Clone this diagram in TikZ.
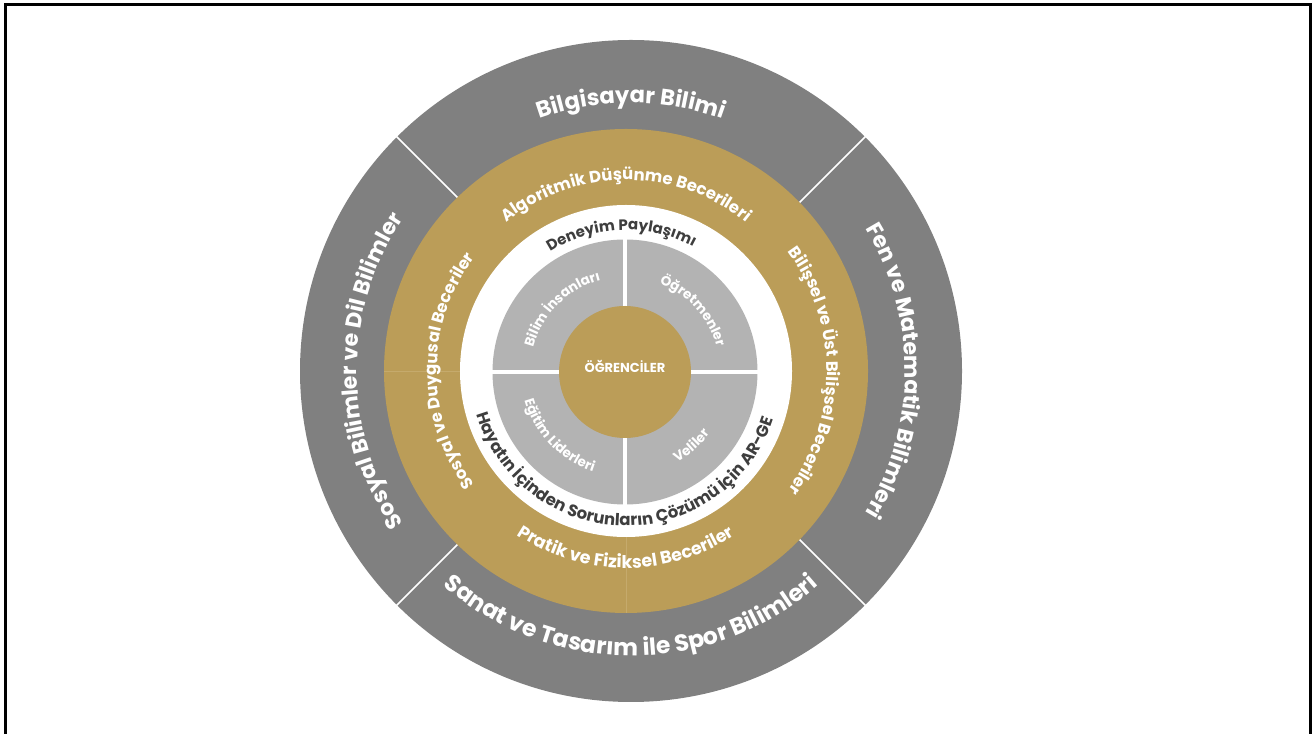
\documentclass[tikz,border=0pt]{standalone}
\usepackage{fontspec}
\setmainfont{Poppins}
\usetikzlibrary{decorations.text}
\definecolor{ringgrey}{RGB}{128,128,128}
\definecolor{ringgold}{RGB}{187,157,88}
\definecolor{seamgold}{RGB}{197,170,108}
\definecolor{quadgrey}{RGB}{179,179,179}
\definecolor{darktext}{RGB}{62,62,62}
\newcommand\fOuterTop{\fontsize{22.5}{22.5}\selectfont\bfseries}
\newcommand\fOuterSide{\fontsize{22}{22}\selectfont\bfseries}
\newcommand\fOuterBot{\fontsize{23.5}{23.5}\selectfont\bfseries}
\newcommand\fGold{\fontsize{16.5}{16.5}\selectfont\bfseries}
\newcommand\fGoldBot{\fontsize{17.5}{17.5}\selectfont\bfseries}
\newcommand\fWhiteA{\fontsize{15}{15}\selectfont\bfseries}
\newcommand\fWhiteB{\fontsize{16.5}{16.5}\selectfont\bfseries}
\newcommand\fQuad{\fontsize{13.5}{13.5}\selectfont\bfseries}
\newcommand\fCenter{\fontsize{13}{13}\selectfont\bfseries}
\begin{document}
\begin{tikzpicture}[x=1pt,y=1pt,
  lbl/.style={decorate,decoration={text along path,text align=center,text={#1}}},
  tcol/.style={decoration={text color=#1}},
  divider/.style={white,line width=1.5pt},
  seam/.style={seamgold,line width=0.5pt},
  cross/.style={white,line width=4pt},
  frameline/.style={black,line width=3pt}]
\useasboundingbox (0,0) rectangle (1316,733);
\fill[white] (0,0) rectangle (1316,733);
\coordinate (C) at (631,362);
\coordinate (G) at (626,362);
\coordinate (Q) at (625,361);
% outer grey ring
\fill[ringgrey] (C) circle[radius=331pt];
\foreach \a in {45,135,225,315}
  \draw[divider] ([shift={(\a:200pt)}]C) -- ([shift={(\a:333pt)}]C);
% gold ring
\fill[ringgold] (G) circle[radius=242pt];
\draw[seam] ([shift={(180:166pt)}]G) -- ([shift={(180:242pt)}]G);
\draw[seam] ([shift={(270:166pt)}]G) -- ([shift={(270:242pt)}]G);
% white ring
\fill[white] (G) circle[radius=166pt];
% quadrants
\fill[quadgrey] (Q) circle[radius=132.5pt];
\draw[cross] ([shift={(0:135pt)}]Q) -- ([shift={(180:135pt)}]Q);
\draw[cross] ([shift={(90:135pt)}]Q) -- ([shift={(270:135pt)}]Q);
% centre
\fill[ringgold] (Q) circle[radius=66pt];
\node[font=\fCenter,text=white,anchor=base,inner sep=0pt] (ogr) at (625,360) {ÖĞRENCİLER};
% outer labels
\path[lbl={|\fOuterTop|Bilgisayar Bilimi},tcol=white] ([shift={(135:268pt)}]C) arc[start angle=135,end angle=45,radius=268pt];
\path[lbl={|\fOuterSide|Fen ve Matematik Bilimleri},tcol=white] ([shift={(50:274pt)}]C) arc[start angle=50,end angle=-50,radius=274pt];
\path[lbl={|\fOuterSide|Sosyal Bilimler ve Dil Bilimler},tcol=white] ([shift={(230:274pt)}]C) arc[start angle=230,end angle=130,radius=274pt];
\path[lbl={|\fOuterBot|Sanat ve Tasarım ile Spor Bilimleri},tcol=white] ([shift={(195:285pt)}]C) arc[start angle=195,end angle=345,radius=285pt];
% gold labels
\path[lbl={|\fGold|Algoritmik Düşünme Becerileri},tcol=white] ([shift={(150:191pt)}]G) arc[start angle=150,end angle=30,radius=191pt];
\path[lbl={|\fGold|Bilişsel ve Üst Bilişsel Beceriler},tcol=white] ([shift={(60:201pt)}]G) arc[start angle=60,end angle=-60,radius=201pt];
\path[lbl={|\fGold|Sosyal ve Duygusal Beceriler},tcol=white] ([shift={(240:189pt)}]G) arc[start angle=240,end angle=120,radius=189pt];
\path[lbl={|\fGoldBot|Pratik ve Fiziksel Beceriler},tcol=white] ([shift={(200:197pt)}]G) arc[start angle=200,end angle=340,radius=197pt];
% white ring labels
\path[lbl={|\fWhiteA|Deneyim Paylaşımı},tcol=darktext] ([shift={(152:141pt)}]G) arc[start angle=152,end angle=32,radius=141pt];
\path[lbl={|\fWhiteB|Hayatın İçinden Sorunların Çözümü İçin AR-GE},tcol=darktext] ([shift={(180:155pt)}]G) arc[start angle=180,end angle=358,radius=155pt];
% quadrant labels
\path[lbl={|\fQuad|Bilim İnsanları},tcol=white] ([shift={(180:95pt)}]Q) arc[start angle=180,end angle=90,radius=95pt];
\path[lbl={|\fQuad|Öğretmenler},tcol=white] ([shift={(87:95pt)}]Q) arc[start angle=87,end angle=-3,radius=95pt];
\path[lbl={|\fQuad|Eğitim Liderleri},tcol=white] ([shift={(179:104.5pt)}]Q) arc[start angle=179,end angle=269,radius=104.5pt];
\path[lbl={|\fQuad|Veliler},tcol=white] ([shift={(267:104.5pt)}]Q) arc[start angle=267,end angle=357,radius=104.5pt];
% frame
\draw[frameline] (5.5,-5) -- (5.5,728.7) -- (1310.5,728.7) -- (1310.5,-5);
\end{tikzpicture}
\end{document}
